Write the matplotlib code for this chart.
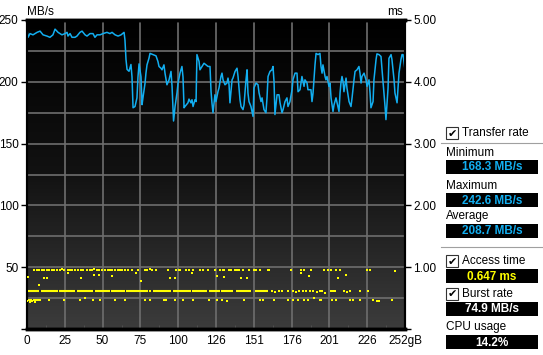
import numpy as np
import matplotlib.pyplot as plt
from matplotlib.colors import LinearSegmentedColormap
from matplotlib.patches import Rectangle

plt.rcParams['font.family'] = ['Liberation Sans', 'DejaVu Sans']

# transfer rate (MB/s) against disk position (gB)
pos_gb = [0, 0.7, 2, 4, 6.7, 8.7, 10.7, 13.3, 15.3, 17.3,
          18.7, 20.7, 22, 23.3, 25.3, 26.7, 27.3, 28.7, 30, 32,
          33.3, 35.3, 36.7, 38.7, 40, 42, 44, 45.3, 46.7, 48.7,
          50.7, 53.3, 55.3, 56.7, 58.7, 60.7, 62.7, 64.7, 65.3, 66,
          66.7, 68, 69.3, 70, 70.7, 72, 73.3, 74, 74.7, 76,
          76.7, 77.3, 78.7, 79.3, 80, 81.3, 82, 84, 86, 87.3,
          88, 89.3, 90, 91.3, 92, 93.3, 94, 94.7, 96, 96.7,
          97.3, 97.7, 98.7, 100, 100.7, 102, 103.3, 104, 104.7, 105.3,
          107.3, 108, 109.3, 110, 110.7, 112, 112.7, 113.3, 114.7, 115.3,
          116.7, 118, 119.3, 120.7, 122, 122.7, 123.3, 124, 125.3, 126,
          127.3, 128, 129.3, 130, 130.7, 132, 133.3, 134, 134.7, 135.3,
          136.7, 137.3, 138.7, 140, 140.7, 142, 142.7, 144, 144.7, 146,
          146.7, 147.3, 148, 149.3, 150.7, 151.3, 152.7, 154, 154.7, 156,
          156.7, 158, 159.3, 160, 160.7, 162, 163.3, 164, 164.7, 165.3,
          166.7, 168, 168.7, 170, 170.7, 172, 173.3, 174, 175.3, 176.7,
          177.3, 178.7, 180, 180.7, 182, 183.3, 184.7, 185.3, 186.7, 187.3,
          189.3, 190, 190.7, 192, 192.7, 194, 195.3, 196, 196.7, 197.3,
          198.7, 199.3, 200, 201.3, 202, 202.7, 204, 204.7, 206, 206.7,
          208, 208.7, 209.3, 210, 210.7, 211.3, 212.7, 213.3, 214.7, 216,
          216.7, 218, 218.7, 220, 221.3, 222, 222.7, 223.3, 224.7, 226,
          226.7, 228, 228.7, 229.3, 230.7, 231.3, 232.7, 233.3, 234.7, 236,
          236.7, 238, 238.7, 239.3, 240.7, 241.3, 242.7, 243.3, 244.7, 245.3,
          246.7, 247.3, 248, 249.3, 250, 250.7, 252]
rate_mbs = [242, 236, 239, 238, 240, 241, 238, 237, 236, 238,
            242.6, 240, 239, 238, 239, 240, 237, 239, 236, 236,
            237, 240, 241, 238, 237, 239, 239, 236, 238, 238,
            239, 240, 239, 240, 238, 237, 238, 240, 234, 218,
            210, 208.5, 214, 204, 179, 180, 187, 204, 214.5, 204,
            181.5, 187, 199, 207, 213.7, 219, 223, 222, 221, 216.4,
            212.4, 211, 209.7, 213.7, 207, 197.6, 199.5, 201.6, 208.4, 196.3,
            178.8, 168.3, 180, 191, 199, 207, 212.4, 204, 179, 180,
            183, 186, 183, 185.5, 180, 185.5, 184, 222, 216.4, 209.7,
            212.4, 215, 213.7, 212.4, 212.4, 192, 183, 175, 189.5, 184,
            192, 195, 204.3, 207, 201.6, 197.6, 199, 203, 197.6, 183,
            201.6, 203, 208.4, 211, 204.3, 185.5, 180, 177.5, 181.5, 201.6,
            209.7, 191, 184, 180, 172, 195, 199, 197.6, 191, 184,
            187, 177.5, 175, 187, 204.3, 208.4, 209.7, 212.4, 200, 173.5,
            189.5, 189.5, 183, 175, 177.5, 184, 187, 180, 184, 193.6,
            201.6, 207, 207, 192, 193.6, 204.3, 196.3, 201.6, 199, 193.6,
            193.6, 184, 191, 213.7, 223, 222, 223, 212.4, 207, 213.7,
            204.3, 201.6, 204.3, 196.3, 199, 187, 176, 181.5, 187, 183,
            176, 191, 199, 204.3, 200, 192, 203, 195, 184, 180,
            187, 201.6, 208.4, 209.7, 212.4, 207, 199, 204.3, 207, 201.6,
            196.3, 201.6, 191, 179, 184, 201.6, 218, 222.6, 222, 220.5,
            209.7, 191, 180, 169.4, 195, 219, 222, 218, 201.6, 191,
            183, 193.6, 207, 218, 222, 222, 209.7]

# access time dots (gB, ms)
upper_gb = [4.9, 6.4, 8.0, 10.2, 11.5, 13.1, 14.7, 16.4, 18.2, 19.8,
            22.0, 23.5, 24.9, 27.1, 28.7, 30.2, 32.0, 34.2, 36.0, 37.5,
            39.8, 42.0, 43.1, 44.9, 46.4, 48.0, 50.2, 52.0, 53.8, 55.3,
            56.9, 58.7, 60.4, 62.0, 63.1, 65.1, 67.3, 70.2, 74.0, 78.4,
            80.0, 81.8, 83.6, 86.2, 94.0, 99.6, 101.3, 102.2, 105.8, 108.0,
            110.7, 115.1, 117.3, 120.7, 125.1, 128.4, 130.4, 131.6, 134.9, 136.0,
            138.7, 140.0, 141.6, 143.8, 148.2, 151.6, 152.7, 155.6, 160.4, 161.6,
            176.0, 182.7, 184.4, 189.3, 198.0, 200.7, 202.9, 206.2, 208.4, 226.9,
            228.4, 245.1]
upper_ms = [0.96, 0.96, 0.95, 0.96, 0.96, 0.95, 0.96, 0.96, 0.96, 0.95,
            0.96, 0.97, 0.96, 0.95, 0.96, 0.96, 0.96, 0.95, 0.96, 0.96,
            0.96, 0.95, 0.96, 0.97, 0.96, 0.96, 0.95, 0.96, 0.96, 0.96,
            0.95, 0.96, 0.96, 0.96, 0.95, 0.96, 0.96, 0.95, 0.96, 0.96,
            0.96, 0.97, 0.96, 0.96, 0.96, 0.96, 0.95, 0.96, 0.96, 0.96,
            0.95, 0.96, 0.96, 0.96, 0.96, 0.95, 0.96, 0.96, 0.96, 0.95,
            0.96, 0.96, 0.96, 0.95, 0.96, 0.96, 0.96, 0.96, 0.95, 0.96,
            0.96, 0.96, 0.95, 0.96, 0.96, 0.96, 0.96, 0.95, 0.96, 0.96,
            0.95, 0.94]
stray_gb = [0.9, 7.8, 11.5, 13.3, 27.0, 36.0, 44.4, 47.8, 56.9, 72.4, 76.2,
            95.1, 98.4, 109.8, 126.7, 131.0, 142.4, 146.9, 182.7, 188.2, 207.3, 212.9]
stray_ms = [0.84, 0.71, 0.83, 0.83, 0.90, 0.83, 0.87, 0.87, 0.86, 0.91, 0.78,
            0.83, 0.83, 0.90, 0.86, 0.84, 0.83, 0.83, 0.90, 0.86, 0.82, 0.87]
lower_gb = [0.3, 1.2, 2.0, 2.8, 3.6, 4.4, 5.2, 6.2, 7.3, 8.9,
            14.9, 24.9, 35.6, 38.7, 43.8, 48.9, 58.7, 65.6, 78.9, 81.8,
            91.3, 92.9, 98.4, 104.0, 110.7, 121.1, 126.9, 129.9, 133.3, 144.9,
            155.6, 157.1, 164.9, 173.8, 177.1, 180.4, 184.4, 187.6, 191.6, 195.0,
            196.0, 203.0, 206.2, 215.0, 217.3, 221.8, 230.7, 233.6, 234.4, 243.1]
lower_ms = [0.45, 0.47, 0.44, 0.47, 0.45, 0.47, 0.44, 0.47, 0.47, 0.47,
            0.47, 0.47, 0.47, 0.50, 0.47, 0.47, 0.47, 0.47, 0.47, 0.47,
            0.47, 0.47, 0.47, 0.47, 0.47, 0.47, 0.47, 0.47, 0.46, 0.47,
            0.47, 0.47, 0.47, 0.47, 0.47, 0.47, 0.47, 0.47, 0.50, 0.47,
            0.47, 0.47, 0.47, 0.47, 0.47, 0.47, 0.47, 0.46, 0.46, 0.47]
# dense runs of dots around 0.61 ms
mid_start = [0.5, 9.0, 21.5, 33.0, 45.0, 56.0, 66.0, 84.0, 97.0, 110.0, 121.0, 129.5, 139.5, 152.0]
mid_end = [8.0, 20.5, 32.0, 44.0, 55.0, 65.0, 80.5, 96.0, 109.0, 120.0, 128.5, 137.0, 149.0, 160.5]
mid_gb = [82.0, 163.0, 165.5, 168.0, 170.0, 173.8, 177.1, 179.0, 181.5, 184.0, 186.0,
          188.5, 190.5, 193.0, 195.0, 196.7, 198.4, 202.4, 203.2, 204.0, 205.0,
          211.3, 213.0, 215.0, 221.8, 227.3]
mid_ms = [0.61, 0.61, 0.60, 0.61, 0.62, 0.61, 0.61, 0.60, 0.61, 0.61, 0.62,
          0.61, 0.61, 0.60, 0.61, 0.61, 0.58, 0.61, 0.61, 0.61, 0.61,
          0.61, 0.60, 0.61, 0.61, 0.61]

x_ticks = [0, 25.2, 50.4, 75.6, 100.8, 126, 151.2, 176.4, 201.6, 226.8, 252]
x_labels = ['0', '25', '50', '75', '100', '126', '151', '176', '201', '226', '252gB']

stats = [('Minimum', '168.3 MB/s'), ('Maximum', '242.6 MB/s'), ('Average', '208.7 MB/s')]

W, H = 543, 355
fig = plt.figure(figsize=(W / 100, H / 100), dpi=100, facecolor='white')
ax = fig.add_axes([27 / W, (H - 329) / H, 378 / W, 309 / H])

cmap = LinearSegmentedColormap.from_list('bg', ['#000000', '#121212', '#3c3c3c'])
ax.imshow(np.linspace(0, 1, 256).reshape(-1, 1), cmap=cmap, aspect='auto',
          extent=[0, 252, 0, 250], origin='upper', zorder=0)
ax.set_xlim(0, 252)
ax.set_ylim(0, 250)

for xv in x_ticks[1:-1]:
    ax.axvline(xv, color='#6e6e6e', lw=1.2, zorder=1)
for yv in range(25, 250, 25):
    ax.axhline(yv, color='#6e6e6e', lw=1.2, zorder=1)

ax.plot(pos_gb, rate_mbs, color='#12aef0', lw=1.1, zorder=4)

ax2 = ax.twinx()
ax2.set_ylim(0, 5)
ax2.hlines([0.61] * len(mid_start), mid_start, mid_end, color='#ffff00', lw=1.5, zorder=3)
for gx, my in [(upper_gb, upper_ms), (stray_gb, stray_ms), (lower_gb, lower_ms), (mid_gb, mid_ms)]:
    ax2.plot(gx, my, 's', color='#ffff00', ms=1.5, mew=0, zorder=3)

ax.set_xticks(x_ticks)
ax.set_xticklabels(x_labels)
ax.set_xticks([(a + b) / 2 for a, b in zip(x_ticks[:-1], x_ticks[1:])], minor=True)
ax.set_yticks([0, 50, 100, 150, 200, 250])
ax.set_yticklabels(['', '50', '100', '150', '200', '250'])
ax2.set_yticks([0, 1, 2, 3, 4, 5])
ax2.set_yticklabels(['', '1.00', '2.00', '3.00', '4.00', '5.00'])
ax.tick_params(axis='x', length=0, pad=4, labelsize=8.5)
ax.tick_params(axis='x', which='minor', length=3, direction='in', color='#555555')
ax.tick_params(axis='y', length=4, width=1, pad=2, labelsize=8.5)
ax2.tick_params(axis='y', length=4, width=1, pad=2, labelsize=8.5)

for a in (ax, ax2):
    for s in a.spines.values():
        s.set_color('black')
    a.spines['top'].set_linewidth(2.5)
    a.spines['bottom'].set_linewidth(2.5)
    a.spines['left'].set_linewidth(1.5)
    a.spines['right'].set_linewidth(1.5)

fig.text(27 / W, 1 - 12 / H, 'MB/s', fontsize=8.5, va='center', ha='left')
fig.text(403 / W, 1 - 12 / H, 'ms', fontsize=8.5, va='center', ha='right')

# right side panel, in pixel coordinates
pan = fig.add_axes([0, 0, 1, 1], zorder=-1)
pan.set_xlim(0, W)
pan.set_ylim(H, 0)
pan.set_axis_off()


def checkbox(y, label):
    pan.add_patch(Rectangle((446, y - 6), 12, 12, facecolor='white', edgecolor='#333333', lw=0.8))
    pan.text(452, y + 0.5, '\u2714', fontsize=8, ha='center', va='center', family='DejaVu Sans')
    pan.text(462, y, label, fontsize=8.5, va='center', ha='left')


def valuebox(y0, y1, text, color):
    pan.add_patch(Rectangle((446, y0), 92, y1 - y0, facecolor='black', edgecolor='none'))
    pan.text(492, (y0 + y1) / 2 + 0.5, text, fontsize=8.5, fontweight='bold',
             color=color, ha='center', va='center')


checkbox(133, 'Transfer rate')
pan.plot([441, 543], [143, 143], color='#a0a0a0', lw=0.8)
box_rows = [(153, 160, 174), (186, 193, 207), (216, 224, 238)]
for (name, val), (ty, b0, b1) in zip(stats, box_rows):
    pan.text(446, ty, name, fontsize=8.5, va='center', ha='left')
    valuebox(b0, b1, val, '#12aef0')
pan.plot([441, 543], [247, 247], color='#a0a0a0', lw=0.8)
checkbox(261, 'Access time')
valuebox(269, 283, '0.647 ms', '#ffff00')
checkbox(294, 'Burst rate')
valuebox(302, 316, '74.9 MB/s', 'white')
pan.text(446, 327, 'CPU usage', fontsize=8.5, va='center', ha='left')
valuebox(335, 349, '14.2%', 'white')

fig.savefig('out.png', dpi=100, facecolor='white')
